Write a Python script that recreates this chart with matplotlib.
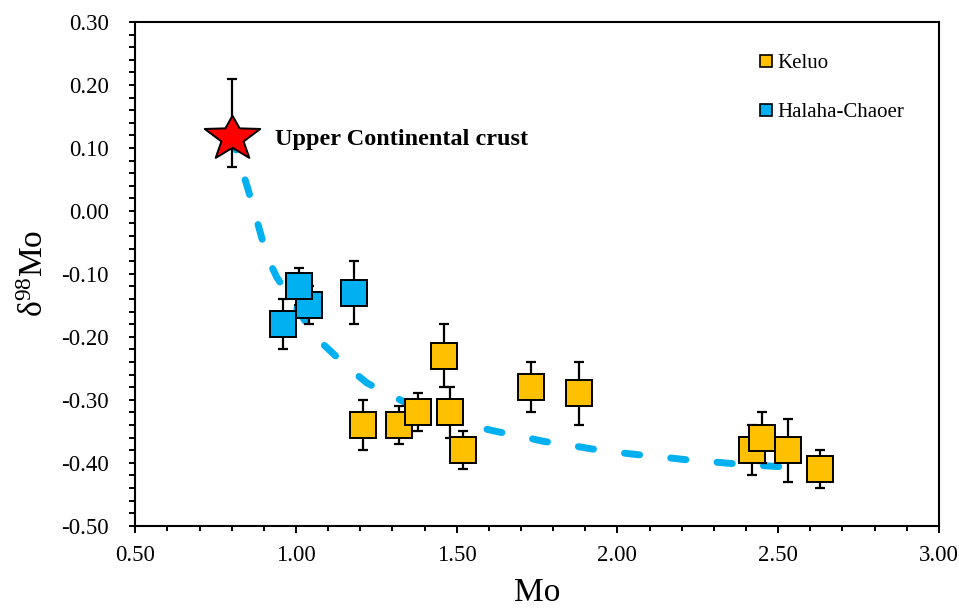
import matplotlib
matplotlib.use('Agg')
import matplotlib.pyplot as plt
from matplotlib.lines import Line2D
from matplotlib.ticker import MultipleLocator, FormatStrFormatter

plt.rcParams['font.family'] = ['Liberation Serif', 'DejaVu Serif']
plt.rcParams['axes.unicode_minus'] = False
plt.rcParams['mathtext.fontset'] = 'custom'
plt.rcParams['mathtext.rm'] = 'Liberation Serif'
plt.rcParams['mathtext.it'] = 'Liberation Serif:italic'

# ---- data ----
ucc_x = [0.80]
ucc_y = [0.12]
ucc_err_lo = [0.05]
ucc_err_hi = [0.09]

halaha_x = [0.96, 1.04, 1.01, 1.18]
halaha_y = [-0.18, -0.15, -0.12, -0.13]
halaha_err = [0.04, 0.03, 0.03, 0.05]

keluo_x = [1.21, 1.32, 1.38, 1.46, 1.48, 1.52, 1.73, 1.88, 2.42, 2.45, 2.53, 2.63]
keluo_y = [-0.34, -0.34, -0.32, -0.23, -0.32, -0.38, -0.28, -0.29, -0.38, -0.36, -0.38, -0.41]
keluo_err = [0.04, 0.03, 0.03, 0.05, 0.04, 0.03, 0.04, 0.05, 0.04, 0.04, 0.05, 0.03]

curve_x = [0.80, 0.83, 0.85, 0.87, 0.89, 0.91, 0.94, 1.06, 1.11, 1.17, 1.22, 1.29, 1.42,
           1.56, 1.63, 1.70, 1.77, 1.85, 1.92, 1.99, 2.06, 2.14, 2.21, 2.28, 2.35, 2.43,
           2.50, 2.60]
curve_y = [0.12, 0.069, 0.036, 0.000, -0.036, -0.073, -0.105, -0.200, -0.224, -0.252, -0.273,
           -0.292, -0.323, -0.343, -0.351, -0.358, -0.366, -0.372, -0.378, -0.383, -0.387,
           -0.391, -0.395, -0.398, -0.401, -0.404, -0.406, -0.410]

x_ticks = [0.5, 1.0, 1.5, 2.0, 2.5, 3.0]
y_ticks = [-0.5, -0.4, -0.3, -0.2, -0.1, 0.0, 0.1, 0.2, 0.3]

ORANGE = '#FFC000'
BLUE = '#00B0F0'

fig = plt.figure(figsize=(9.59, 6.11), dpi=100)
ax = fig.add_axes([0.141, 0.1396, 0.838, 0.8244])

# mixing curve
ax.plot(curve_x, curve_y, color=BLUE, lw=5, dashes=(2.2, 4.5),
        dash_capstyle='round', solid_capstyle='round', zorder=1)

# error bars
eb_kw = dict(fmt='none', ecolor='black', elinewidth=1.6, capsize=3.6, capthick=1.6, zorder=2)
ax.errorbar(halaha_x, halaha_y, yerr=halaha_err, **eb_kw)
ax.errorbar(keluo_x, keluo_y, yerr=keluo_err, **eb_kw)
ax.errorbar(ucc_x, ucc_y, yerr=[ucc_err_lo, ucc_err_hi], **eb_kw)

# markers
ax.plot(halaha_x, halaha_y, 's', ms=18.5, mfc=BLUE, mec='black', mew=1.4, ls='none', zorder=3)
ax.plot(keluo_x, keluo_y, 's', ms=18.5, mfc=ORANGE, mec='black', mew=1.4, ls='none', zorder=3)

star_verts = [(0, 1.0), (0.36, 0.36), (1.4, 0.33), (0.56, -0.3), (0.85, -1.13), (0, -0.62),
              (-0.85, -1.13), (-0.56, -0.3), (-1.4, 0.33), (-0.36, 0.36), (0, 1.0)]
ax.plot(ucc_x, ucc_y, marker=star_verts, ms=40, mfc='red', mec='black', mew=1.4,
        ls='none', zorder=4)

ax.text(0.935, 0.113, 'Upper Continental crust', fontsize=17.5, fontweight='bold',
        ha='left', va='center')

# axes
ax.set_xlim(0.5, 3.0)
ax.set_ylim(-0.5, 0.3)
ax.set_xticks(x_ticks)
ax.set_yticks(y_ticks)
ax.xaxis.set_minor_locator(MultipleLocator(0.1))
ax.yaxis.set_minor_locator(MultipleLocator(0.02))
ax.xaxis.set_major_formatter(FormatStrFormatter('%.2f'))
ax.yaxis.set_major_formatter(FormatStrFormatter('%.2f'))
for s in ax.spines.values():
    s.set_linewidth(1.5)
    s.set_color('black')
ax.tick_params(axis='both', which='both', direction='out', width=1.4, colors='black')
ax.tick_params(axis='x', which='major', length=5, pad=9, labelsize=16.5)
ax.tick_params(axis='x', which='minor', length=3.3)
ax.tick_params(axis='y', which='major', length=4, pad=15, labelsize=16.5)
ax.tick_params(axis='y', which='minor', length=4)

ax.set_xlabel('Mo', fontsize=24, labelpad=8.5)
ax.set_ylabel('δ$^{98}$Mo', fontsize=24, labelpad=8)

handles = [
    Line2D([], [], marker='s', ls='none', ms=8.6, mfc=ORANGE, mec='black', mew=1.2, label='Keluo'),
    Line2D([], [], marker='s', ls='none', ms=8.6, mfc=BLUE, mec='black', mew=1.2, label='Halaha-Chaoer'),
]
ax.legend(handles=handles, loc='upper left', bbox_to_anchor=(0.777, 0.937), frameon=False,
          fontsize=15, handlelength=0.6, handletextpad=0.25, labelspacing=1.4,
          borderpad=0, borderaxespad=0)

fig.savefig('out.png', dpi=100)
